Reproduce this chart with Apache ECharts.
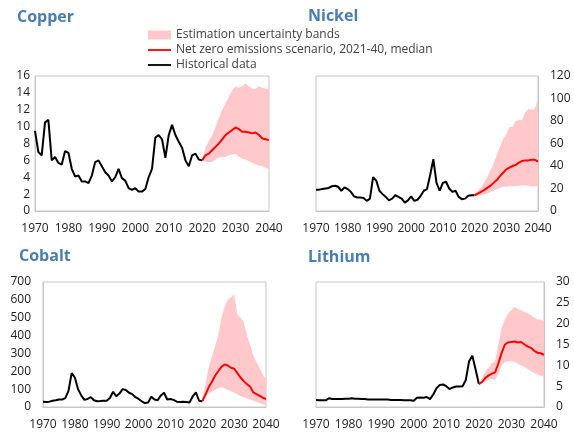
<!DOCTYPE html>
<html>
<head>
<meta charset="utf-8">
<script src="https://cdn.jsdelivr.net/npm/echarts@6/dist/echarts.min.js"></script>
<style>
  html, body { margin: 0; padding: 0; background: #fff; }
  #chart { width: 574px; height: 432px; }
</style>
</head>
<body>
<div id="chart"></div>
<script>
// years: historical 1970-2020, projection 2020-2040
const histStart = 1970
const projStart = 2020

const copperHist = [9.5, 7.0, 6.6, 10.5, 10.8, 6.0, 6.4, 5.7, 5.5, 7.1, 6.9, 5.0, 4.1, 4.2, 3.5, 3.5, 3.3, 4.2, 5.8, 6.0,
  5.3, 4.6, 4.2, 3.5, 4.0, 5.0, 3.9, 3.6, 2.7, 2.5, 2.7, 2.3, 2.3, 2.6, 4.0, 5.0, 8.7, 9.0, 8.5, 6.3,
  9.0, 10.2, 9.0, 8.2, 7.5, 6.0, 5.3, 6.6, 6.8, 6.1, 6.0]
const copperMedian = [6.0, 6.6, 6.8, 7.2, 7.6, 8.0, 8.5, 9.0, 9.3, 9.6, 9.9, 9.7, 9.4, 9.4, 9.3, 9.2, 9.3, 9.0, 8.6, 8.5, 8.4]
const copperHigh = [6.0, 7.5, 8.3, 9.0, 10.0, 11.0, 12.0, 12.8, 13.5, 14.3, 14.8, 14.6, 14.8, 15.1, 14.8, 14.5, 14.5, 14.8, 14.6, 14.5, 14.5]
const copperLow = [6.0, 5.8, 5.8, 5.8, 6.1, 6.3, 6.4, 6.4, 6.6, 6.7, 6.8, 6.4, 6.2, 6.1, 5.9, 5.7, 5.5, 5.4, 5.3, 5.1, 5.0]

const nickelHist = [19, 19, 19.5, 20, 20.5, 22, 22.5, 21.5, 18, 21, 19.5, 17, 13, 12, 12, 11.5, 9, 11, 30, 27,
  18, 15, 12.5, 9.5, 11, 14, 12.5, 11, 7.5, 9.5, 13, 9, 10, 13.5, 18, 19.5, 32, 46, 25, 18,
  25, 26, 20, 17, 18, 12.5, 10.5, 11, 13.5, 14, 14]
const nickelMedian = [14, 15.5, 17, 18.5, 20.5, 22.5, 25, 27.5, 31, 34, 37, 38.5, 40, 41, 43, 44.5, 45, 45, 45.5, 45.5, 44]
const nickelHigh = [14, 18, 21, 25, 30, 36, 42, 50, 57, 64, 68, 75, 75, 80, 81, 81, 88, 91, 90, 91, 99]
const nickelLow = [14, 13.5, 14, 15, 15.5, 17, 18, 19.5, 20.5, 21.5, 21.5, 22, 22, 22, 22.5, 23, 22.5, 22.5, 22, 22, 22]

const cobaltHist = [30, 28, 30, 35, 38, 42, 42, 50, 90, 190, 165, 100, 65, 40, 45, 55, 38, 32, 33, 35,
  35, 50, 85, 60, 75, 100, 95, 80, 72, 55, 45, 32, 22, 25, 58, 42, 38, 65, 80, 42,
  45, 40, 30, 28, 30, 28, 25, 60, 82, 35, 32]
const cobaltMedian = [32, 70, 110, 140, 175, 200, 225, 238, 232, 220, 215, 190, 165, 145, 128, 115, 82, 72, 62, 52, 45]
const cobaltHigh = [32, 130, 220, 280, 340, 400, 500, 560, 600, 615, 630, 520, 500, 480, 400, 350, 290, 250, 220, 180, 160]
const cobaltLow = [32, 60, 75, 85, 95, 105, 110, 105, 95, 88, 80, 72, 62, 55, 48, 42, 35, 28, 22, 15, 10]

const lithiumHist = [1.7, 1.6, 1.6, 1.6, 2.1, 1.9, 1.9, 1.9, 1.9, 2.0, 2.0, 2.1, 2.0, 2.0, 1.9, 1.9, 1.8, 1.8, 1.8, 1.8,
  1.8, 1.8, 1.8, 1.7, 1.7, 1.7, 1.7, 1.6, 1.6, 1.6, 1.5, 2.2, 2.3, 2.2, 2.4, 1.9, 3.0, 4.5, 5.3, 5.4,
  5.0, 4.3, 4.7, 4.9, 4.9, 5.0, 6.5, 11.0, 12.3, 9.0, 5.5]
const lithiumMedian = [5.5, 6.0, 7.0, 7.6, 8.0, 8.3, 10.5, 13.0, 15.0, 15.5, 15.6, 15.7, 15.5, 15.6, 15.0, 14.5, 14.2, 13.5, 13.0, 12.9, 12.5]
const lithiumHigh = [5.5, 7.0, 8.5, 9.5, 10.5, 11.0, 15.0, 19.0, 21.0, 22.5, 23.3, 24.0, 23.5, 23.2, 22.8, 22.5, 22.0, 21.5, 21.0, 21.0, 20.5]
const lithiumLow = [5.5, 5.8, 6.2, 6.5, 6.7, 6.5, 8.0, 10.0, 10.8, 11.0, 11.0, 10.8, 10.3, 10.0, 9.6, 9.1, 8.6, 8.2, 7.8, 7.5, 7.3]

const bandName = 'Estimation uncertainty bands'
const medianName = 'Net zero emissions scenario, 2021-40, median'
const histName = 'Historical data'

const panels = [
  { title: 'Copper', hist: copperHist, median: copperMedian, high: copperHigh, low: copperLow, max: 16, interval: 2,
    grid: { left: 35, top: 76, width: 234, height: 135 }, right: false, labelMargin: 5, titlePos: { left: 12, top: 4 } },
  { title: 'Nickel', hist: nickelHist, median: nickelMedian, high: nickelHigh, low: nickelLow, max: 120, interval: 20,
    grid: { left: 316, top: 76, width: 222, height: 135 }, right: true, labelMargin: 12, titlePos: { left: 303, top: 3 } },
  { title: 'Cobalt', hist: cobaltHist, median: cobaltMedian, high: cobaltHigh, low: cobaltLow, max: 700, interval: 100,
    grid: { left: 43, top: 282, width: 223, height: 125 }, right: false, labelMargin: 12, titlePos: { left: 14, top: 243 } },
  { title: 'Lithium', hist: lithiumHist, median: lithiumMedian, high: lithiumHigh, low: lithiumLow, max: 30, interval: 5,
    grid: { left: 316, top: 282, width: 228, height: 125 }, right: true, labelMargin: 12, titlePos: { left: 303, top: 244 } }
]

const pairs = (arr, start) => arr.map((v, i) => [start + i, v])

const font = '"Open Sans", "Noto Sans", sans-serif'
const bandColor = '#ffc9cc'

// the band is one polygon: upper edge forward, lower edge backward
function bandRenderer (high, low) {
  return function (params, api) {
    if (params.dataIndex !== 0) return null
    const pts = []
    for (let k = 0; k < high.length; k++) pts.push(api.coord([projStart + k, high[k]]))
    for (let k = low.length - 1; k >= 0; k--) pts.push(api.coord([projStart + k, low[k]]))
    return {
      type: 'polygon',
      shape: { points: pts },
      style: { fill: bandColor, stroke: null }
    }
  }
}

const option = {
  backgroundColor: '#fff',
  animation: false,
  textStyle: { fontFamily: font },
  title: [],
  grid: [],
  xAxis: [],
  yAxis: [],
  series: [],
  legend: {
    orient: 'vertical',
    left: 143,
    top: 24,
    itemWidth: 23,
    itemHeight: 9,
    itemGap: 3,
    textStyle: { color: '#404040', fontSize: 12, fontFamily: font },
    data: [
      { name: bandName, icon: 'rect', itemStyle: { color: bandColor } },
      { name: medianName, icon: 'path://M0,0 L25,0 L25,2 L0,2 Z' },
      { name: histName, icon: 'path://M0,0 L25,0 L25,2 L0,2 Z' }
    ]
  }
}

panels.forEach((p, i) => {
  option.title.push({
    text: p.title,
    left: p.titlePos.left,
    top: p.titlePos.top,
    textStyle: { color: '#4a7eb1', fontSize: 16, fontWeight: 'bold', fontFamily: font }
  })
  option.grid.push(Object.assign({ show: true, borderColor: '#c6c6c6', borderWidth: 1 }, p.grid))
  option.xAxis.push({
    type: 'value',
    gridIndex: i,
    min: 1970,
    max: 2040,
    interval: 10,
    axisLine: { show: true, lineStyle: { color: '#c6c6c6' } },
    axisTick: { show: false },
    splitLine: { show: false },
    axisLabel: { color: '#222', fontSize: 12, margin: 12, formatter: v => String(v) }
  })
  option.yAxis.push({
    type: 'value',
    gridIndex: i,
    min: 0,
    max: p.max,
    interval: p.interval,
    position: p.right ? 'right' : 'left',
    axisLine: { show: true, lineStyle: { color: '#c6c6c6' } },
    axisTick: { show: false },
    splitLine: { show: false },
    axisLabel: { color: '#222', fontSize: 12, margin: p.labelMargin }
  })
  option.series.push({
    name: bandName,
    type: 'custom',
    xAxisIndex: i,
    yAxisIndex: i,
    data: pairs(p.high, projStart),
    itemStyle: { color: bandColor },
    renderItem: bandRenderer(p.high, p.low),
    silent: true,
    z: 1
  })
  option.series.push({
    name: histName,
    type: 'line',
    xAxisIndex: i,
    yAxisIndex: i,
    data: pairs(p.hist, histStart),
    showSymbol: false,
    itemStyle: { color: '#000' },
    lineStyle: { color: '#000', width: 2 },
    z: 3
  })
  option.series.push({
    name: medianName,
    type: 'line',
    xAxisIndex: i,
    yAxisIndex: i,
    data: pairs(p.median, projStart),
    showSymbol: false,
    itemStyle: { color: '#ff0000' },
    lineStyle: { color: '#ff0000', width: 2 },
    z: 4
  })
})

const chart = echarts.init(document.getElementById('chart'))
chart.setOption(option)
</script>
</body>
</html>
